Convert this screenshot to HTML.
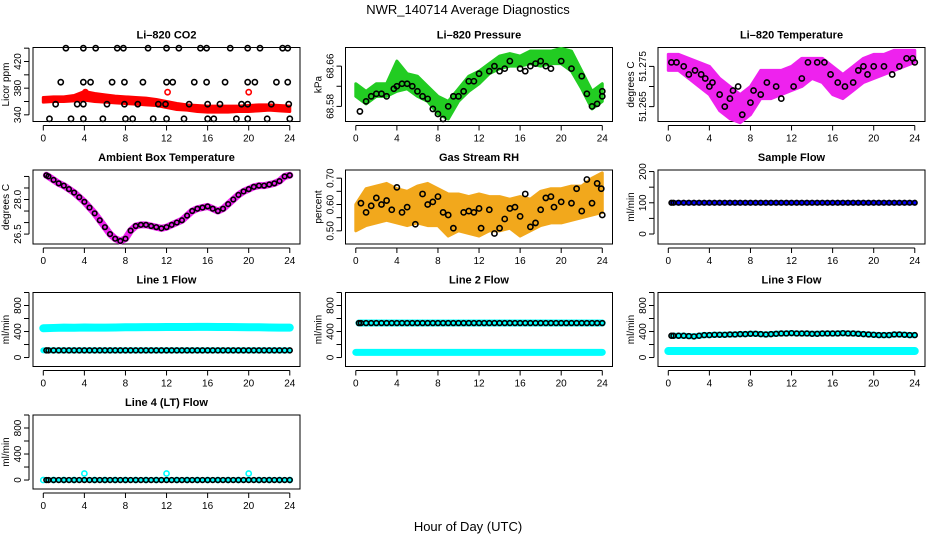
<!DOCTYPE html>
<html><head><meta charset="utf-8"><style>
html,body{margin:0;padding:0;background:#fff;}
svg{display:block;font-family:"Liberation Sans",sans-serif;}
</style></head><body>
<svg id="chart" width="936" height="540" viewBox="0 0 936 540" xmlns="http://www.w3.org/2000/svg">
<text x="468" y="14" text-anchor="middle" font-size="13">NWR_140714  Average Diagnostics</text>
<text x="468" y="531" text-anchor="middle" font-size="13">Hour of Day (UTC)</text>
</svg>
<script>
// ---- data ----
const hourTicks = [0,4,8,12,16,20,24];
const bandHours = [0,1,2,3,4,5,6,7,8,9,10,11,12,13,14,15,16,17,18,19,20,21,22,23,24];
const halfHours = [0.3,0.5,1,1.5,2,2.5,3,3.5,4,4.5,5,5.5,6,6.5,7,7.5,8,8.5,9,9.5,10,10.5,11,11.5,12,12.5,13,13.5,14,14.5,15,15.5,16,16.5,17,17.5,18,18.5,19,19.5,20,20.5,21,21.5,22,22.5,23,23.5,24];

const co2Upper = [366,367,367,369,375,372,370,368,367,366,365,363,360,357,355,354,353,353,353,353,354,355,355,354,353];
const co2Lower = [359,360,360,361,362,360,359,358,357,356,355,354,351,348,347,345,344,344,344,345,345,346,347,346,345];
const co2RedHours = [4.1,12.1,20];
const co2RedVals = [374,374,374];
const co2BlackHours = [2.2,3.9,5.1,7.2,7.8,10.2,12,13.2,15.3,15.9,18.2,19.9,21.1,23.3,23.8,
 1.7,3.9,4.6,6.7,7.9,9.7,12,12.6,14.7,15.9,17.7,19.9,20.6,22.7,23.8,
 1.2,3.3,3.9,6.2,7.9,9.2,11.2,11.9,14.2,16,17.2,19.3,19.9,22.2,23.9,
 0.6,2.7,3.9,5.8,8,8.7,10.7,12,13.7,16,16.6,18.8,19.9,21.8,24];
const co2BlackVals = [440,440,440,440,440,440,440,440,440,440,440,440,440,440,440,
 389,389,389,389,389,389,389,389,389,389,389,389,389,389,389,
 356,356,356,356,356,356,356,356,356,356,356,356,356,356,356,
 334,334,334,334,334,334,334,334,334,334,334,334,334,334,334];

const presUpper = [68.625,68.61,68.625,68.625,68.67,68.645,68.64,68.62,68.60,68.59,68.615,68.64,68.65,68.665,68.68,68.685,68.68,68.69,68.69,68.69,68.695,68.69,68.65,68.61,68.625];
const presLower = [68.60,68.585,68.60,68.60,68.61,68.615,68.60,68.59,68.565,68.555,68.59,68.61,68.625,68.645,68.655,68.66,68.66,68.665,68.66,68.665,68.665,68.65,68.615,68.575,68.59];
const presBlackHours = [0.4,1,1.5,2,2.5,3,3.7,4,4.5,5,5.5,6,6.5,7,7.5,8,8.5,9,9.5,10,10.5,11,11.5,12,13,13.5,14,14.5,15,16,16.5,17,17.5,18,18.5,19,20,21,22,22.5,23,23.5,24,24];
const presBlackVals = [68.57,68.59,68.60,68.605,68.605,68.60,68.615,68.62,68.625,68.625,68.62,68.61,68.60,68.595,68.575,68.565,68.555,68.58,68.60,68.60,68.61,68.63,68.63,68.645,68.65,68.66,68.65,68.655,68.67,68.655,68.65,68.66,68.665,68.67,68.66,68.655,68.67,68.655,68.64,68.605,68.58,68.585,68.61,68.60];

const tempUpper = [51.278,51.278,51.277,51.276,51.275,51.272,51.270,51.268,51.270,51.274,51.274,51.274,51.275,51.277,51.277,51.277,51.275,51.273,51.275,51.277,51.278,51.278,51.279,51.279,51.279];
const tempLower = [51.274,51.274,51.272,51.270,51.268,51.264,51.262,51.261,51.263,51.267,51.267,51.268,51.269,51.270,51.272,51.271,51.268,51.267,51.269,51.271,51.272,51.273,51.274,51.275,51.276];
const tempBlackHours = [0.3,0.8,1.5,2,2.6,3.2,3.6,4,4.3,5,5.5,6,6.3,6.8,7.2,8,8.3,9,9.6,10.5,11,12.2,13,13.6,14.5,15.2,15.8,16.5,17.2,18,18.5,19,19.4,20,21,21.8,22.5,23.2,23.8,24];
const tempBlackVals = [51.276,51.276,51.275,51.273,51.274,51.273,51.272,51.270,51.271,51.268,51.265,51.267,51.269,51.270,51.263,51.266,51.269,51.268,51.271,51.270,51.267,51.270,51.272,51.276,51.276,51.276,51.273,51.271,51.270,51.271,51.274,51.275,51.273,51.275,51.275,51.273,51.275,51.277,51.277,51.276];

const ambVals = [29.05,29.0,28.85,28.7,28.6,28.45,28.3,28.1,27.9,27.65,27.4,27.1,26.8,26.5,26.3,26.2,26.3,26.65,26.85,26.9,26.9,26.85,26.8,26.75,26.8,26.9,27.0,27.1,27.3,27.5,27.6,27.65,27.7,27.6,27.5,27.6,27.8,28.0,28.2,28.35,28.45,28.55,28.6,28.6,28.65,28.7,28.8,29.0,29.05];

const rhUpper = [0.60,0.66,0.67,0.68,0.66,0.65,0.67,0.68,0.66,0.64,0.64,0.63,0.64,0.63,0.63,0.62,0.63,0.62,0.65,0.66,0.66,0.67,0.67,0.70,0.72];
const rhLower = [0.50,0.52,0.53,0.54,0.53,0.52,0.53,0.52,0.52,0.48,0.50,0.49,0.48,0.50,0.50,0.51,0.48,0.50,0.52,0.53,0.53,0.54,0.55,0.56,0.57];
const rhBlackHours = [0.5,1,1.5,2,2.5,3,3.5,4,4.5,5,5.8,6.5,7,7.5,8,8.5,9,9.5,10.5,11,11.5,12,12.2,13,13.5,14,14.5,15,15.5,16,16.5,17,17.5,18,18.5,19,19.3,20,21,21.5,22,22.5,23,23.5,23.9,24];
const rhBlackVals = [0.605,0.57,0.595,0.625,0.60,0.615,0.58,0.665,0.57,0.59,0.525,0.64,0.60,0.61,0.63,0.57,0.56,0.51,0.57,0.575,0.57,0.585,0.51,0.58,0.49,0.51,0.545,0.585,0.59,0.555,0.64,0.515,0.53,0.58,0.625,0.63,0.59,0.61,0.605,0.66,0.575,0.695,0.605,0.68,0.66,0.56];

const sampleVals = [100,100,100,100,100,100,100,100,100,100,100,100,100,100,100,100,100,100,100,100,100,100,100,100,100,100,100,100,100,100,100,100,100,100,100,100,100,100,100,100,100,100,100,100,100,100,100,100,100];

const line1Cyan = [450,455,460,458,462,460,460,462,465,465,468,468,470,470,470,472,472,470,470,468,465,465,462,460,460];
const line1Black = [110,110,110,110,110,110,110,110,110,110,110,110,110,110,110,110,110,110,110,110,110,110,110,110,110,110,110,110,110,110,110,110,110,110,110,110,110,110,110,110,110,110,110,110,110,110,110,110,110];
const line2Cyan = [80,80,80,80,80,80,80,80,80,80,80,80,80,80,80,80,80,80,80,80,80,80,80,80,80];
const line2Black = [530,530,530,530,530,530,530,530,530,530,530,530,530,530,530,530,530,530,530,530,530,530,530,530,530,530,530,530,530,530,530,530,530,530,530,530,530,530,530,530,530,530,530,530,530,530,530,530,530];
const line3Cyan = [100,100,100,100,100,100,100,100,100,100,100,100,100,100,100,100,100,100,100,100,100,100,100,100,100];
const line3Black = [335,335,335,335,330,325,335,345,345,350,350,350,355,355,360,360,365,365,360,355,360,365,370,370,375,370,370,370,365,365,370,370,370,370,375,370,370,365,360,355,350,345,345,345,355,355,350,345,345];
const line4Cyan = [0,0,0,0,100,0,0,0,0,0,0,0,100,0,0,0,0,0,0,0,100,0,0,0,0];
const line4Black = [0,0,0,0,0,0,0,0,0,0,0,0,0,0,0,0,0,0,0,0,0,0,0,0,0,0,0,0,0,0,0,0,0,0,0,0,0,0,0,0,0,0,0,0,0,0,0,0,0];

const NS = "http://www.w3.org/2000/svg";
const svg = document.getElementById('chart');
function mk(tag, attrs, parent){ const e=document.createElementNS(NS,tag); for(const k in attrs) e.setAttribute(k,attrs[k]); (parent||svg).appendChild(e); return e; }

const colLeft = [33, 345.5, 658];
const rowTop = [47.5, 170, 292.5, 415];
const W = 267, H = 74;

function panel(name, col, row, title, ylab, ymin, ymax, ticks, labels){
  const L = colLeft[col], T = rowTop[row];
  const g = mk('g', {});
  
  
  const xs = h => L + 10.3 + h * 10.27;
  const ys = v => T + H - (v - ymin) / (ymax - ymin) * H;
  const t = mk('text', {x: L + W/2, y: T - 9, 'text-anchor':'middle', 'font-size':11, 'font-weight':'bold'}, g);
  t.textContent = title;
  
  
  const box = mk('rect', {x:L, y:T, width:W, height:H, fill:'none', stroke:'#000', 'stroke-width':1}, g);
  
  
  const xa = mk('g', {}, g);
  
  
  mk('line', {x1:xs(0), x2:xs(24), y1:T+H+4, y2:T+H+4, stroke:'#000'}, xa);
  hourTicks.forEach(h => {
    mk('line', {x1:xs(h), x2:xs(h), y1:T+H+4, y2:T+H+9, stroke:'#000'}, xa);
    const tx = mk('text', {x:xs(h), y:T+H+20, 'text-anchor':'middle', 'font-size':10}, xa);
    tx.textContent = h;
  });
  const ya = mk('g', {}, g);
  
  
  mk('line', {x1:L-4, x2:L-4, y1:ys(ticks[0]), y2:ys(ticks[ticks.length-1]), stroke:'#000'}, ya);
  ticks.forEach(v => { mk('line', {x1:L-4, x2:L-9, y1:ys(v), y2:ys(v), stroke:'#000'}, ya); });
  labels.forEach(([v, s]) => {
    const tx = mk('text', {x:0, y:0, 'text-anchor':'middle', 'font-size':10, transform:`translate(${L-12},${ys(v)}) rotate(-90)`}, ya);
    tx.textContent = s;
  });
  const yl = mk('text', {x:0, y:0, 'text-anchor':'middle', 'font-size':10, transform:`translate(${L-24},${T+H/2}) rotate(-90)`}, g);
  yl.textContent = ylab;
  
  
  const data = mk('g', {}, g);
  
  
  return {xs, ys, g: data};
}
function band(p, hours, up, lo, fill, name){
  const pts = hours.map((h,i)=>`${p.xs(h)},${p.ys(up[i])}`).concat(hours.slice().reverse().map((h,j)=>{const i=hours.length-1-j; return `${p.xs(h)},${p.ys(lo[i])}`;}));
  const e = mk('polygon', {points: pts.join(' '), fill: fill, stroke: fill, 'stroke-width': 3, 'stroke-linejoin':'round'}, p.g);
  
  
}
function thickLine(p, hours, vals, color, w, name){
  const e = mk('polyline', {points: hours.map((h,i)=>`${p.xs(h)},${p.ys(vals[i])}`).join(' '), fill:'none', stroke:color, 'stroke-width':w, 'stroke-linejoin':'round', 'stroke-linecap':'round'}, p.g);
  
  
}
function pts(p, hours, vals, color, name, r){
  hours.forEach((h,i) => {
    const c = mk('circle', {cx:p.xs(h), cy:p.ys(vals[i]), r:r||2.6, fill:'none', stroke:color, 'stroke-width':1.6}, p.g);
    
    
  });
}

// Panels
let p = panel('co2', 0, 0, 'Li\u2013820 CO2', 'Licor ppm', 330, 441, [340,360,380,400,420,440], [[340,'340'],[380,'380'],[420,'420']]);
band(p, bandHours, co2Upper, co2Lower, '#ff0000', 'co2-band');
pts(p, co2RedHours, co2RedVals, '#ff0000', 'co2-red-point');
pts(p, co2BlackHours, co2BlackVals, '#000', 'co2-point');

p = panel('pressure', 1, 0, 'Li\u2013820 Pressure', 'kPa', 68.55, 68.697, [68.58,68.62,68.66], [[68.58,'68.58'],[68.66,'68.66']]);
band(p, bandHours, presUpper, presLower, '#22cc22', 'pressure-band');
pts(p, presBlackHours, presBlackVals, '#000', 'pressure-point');

p = panel('temperature', 2, 0, 'Li\u2013820 Temperature', 'degrees C', 51.2613, 51.2797, [51.265,51.270,51.275], [[51.265,'51.265'],[51.275,'51.275']]);
band(p, bandHours, tempUpper, tempLower, '#ee22ee', 'temperature-band');
pts(p, tempBlackHours, tempBlackVals, '#000', 'temperature-point');

p = panel('ambient', 0, 1, 'Ambient Box Temperature', 'degrees C', 26.07, 29.28, [26.5,27.0,27.5,28.0,28.5,29.0], [[26.5,'26.5'],[28.0,'28.0']]);
thickLine(p, halfHours, ambVals, '#ee22ee', 7, 'ambient-band');
pts(p, halfHours, ambVals, '#000', 'ambient-point', 2.3);

p = panel('rh', 1, 1, 'Gas Stream RH', 'percent', 0.45, 0.731, [0.50,0.55,0.60,0.65,0.70], [[0.50,'0.50'],[0.60,'0.60'],[0.70,'0.70']]);
band(p, bandHours, rhUpper, rhLower, '#f2a81c', 'rh-band');
pts(p, rhBlackHours, rhBlackVals, '#000', 'rh-point');

p = panel('sample-flow', 2, 1, 'Sample Flow', 'ml/min', -32, 205, [0,50,100,150,200], [[0,'0'],[100,'100'],[200,'200']]);
thickLine(p, halfHours, sampleVals, '#0000ff', 5, 'sample-flow-band');
pts(p, halfHours, sampleVals, '#000', 'sample-flow-point', 2.3);

const flowTicks = [0,200,400,600,800,1000];
const flowLabels = [[0,'0'],[400,'400'],[800,'800']];
p = panel('line1', 0, 2, 'Line 1 Flow', 'ml/min', -138, 1000, flowTicks, flowLabels);
thickLine(p, bandHours, line1Cyan, '#00ffff', 8, 'line1-cyan-band');
thickLine(p, bandHours, line1Black, '#00ffff', 6, 'line1-cyan-low');
pts(p, halfHours, line1Black, '#000', 'line1-point', 2.4);

p = panel('line2', 1, 2, 'Line 2 Flow', 'ml/min', -138, 1000, flowTicks, flowLabels);
thickLine(p, bandHours, line2Cyan, '#00ffff', 7, 'line2-cyan-band');
thickLine(p, halfHours, line2Black, '#00ffff', 7, 'line2-cyan-high');
pts(p, halfHours, line2Black, '#000', 'line2-point', 2.4);

p = panel('line3', 2, 2, 'Line 3 Flow', 'ml/min', -138, 1000, flowTicks, flowLabels);
thickLine(p, bandHours, line3Cyan, '#00ffff', 8, 'line3-cyan-band');
thickLine(p, halfHours, line3Black, '#00ffff', 6, 'line3-cyan-high');
pts(p, halfHours, line3Black, '#000', 'line3-point', 2.4);

p = panel('line4', 0, 3, 'Line 4 (LT) Flow', 'ml/min', -138, 1000, flowTicks, flowLabels);
thickLine(p, halfHours, line4Black, '#00ffff', 5, 'line4-cyan-band');
pts(p, bandHours, line4Cyan, '#00ffff', 'line4-cyan-point', 2.6);
pts(p, halfHours, line4Black, '#000', 'line4-point', 2.4);
</script>
</body></html>
